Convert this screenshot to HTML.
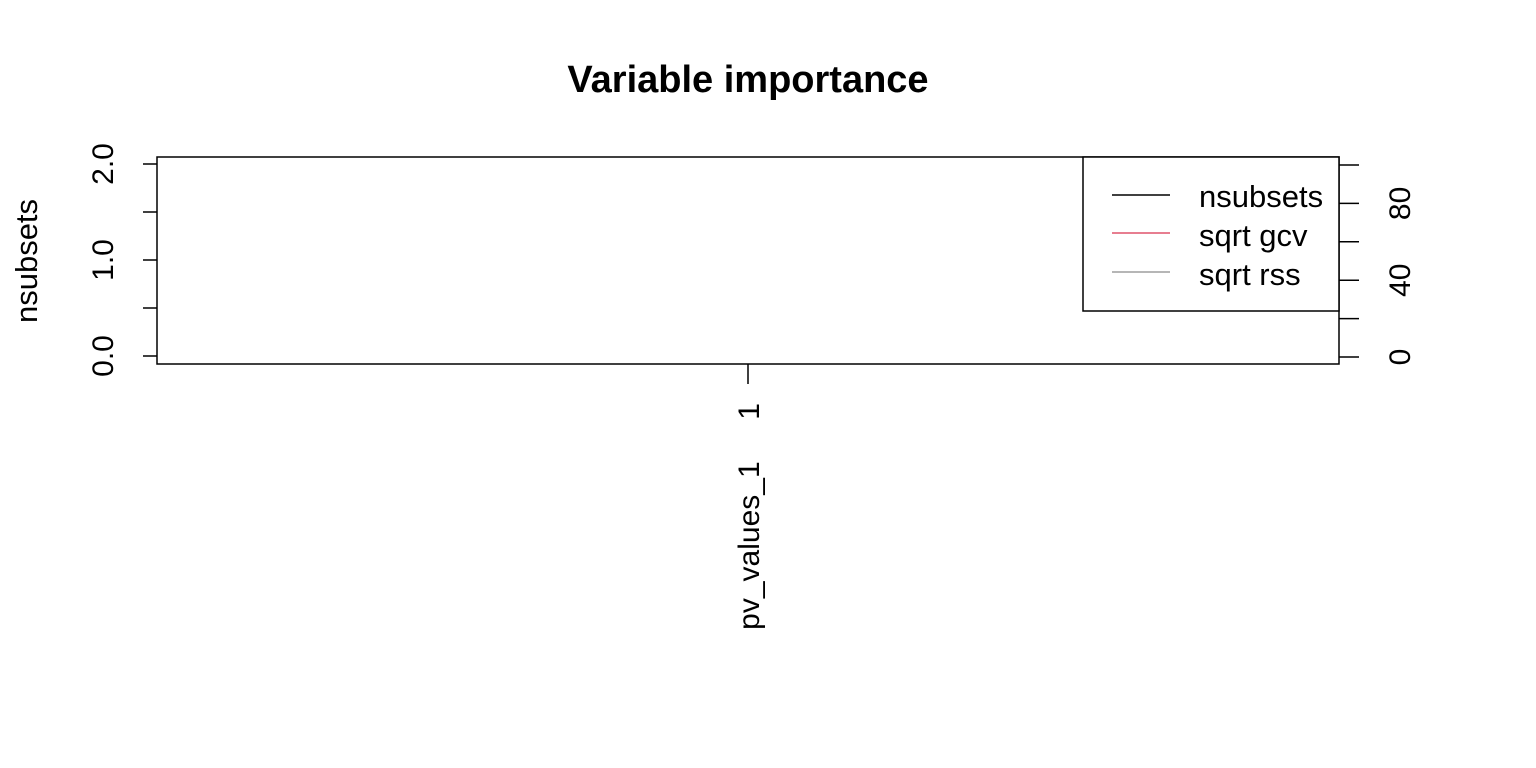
<!DOCTYPE html>
<html><head><meta charset="utf-8"><style>body{margin:0;background:#fff}svg{display:block}text{font-family:"Liberation Sans",Arial,sans-serif}</style></head>
<body>
<svg width="1536" height="768" xmlns="http://www.w3.org/2000/svg">
<text x="748" y="92" font-size="38" font-weight="bold" text-anchor="middle">Variable importance</text>
<rect x="157" y="157" width="1182" height="207" fill="none" stroke="#000" stroke-width="1.5"/>
<g id="leftAxis"></g>
<g id="rightAxis"></g>
<g id="xAxis"></g>
<text transform="translate(37,261) rotate(-90)" font-size="31" text-anchor="middle">nsubsets</text>
<g>
<rect x="1083" y="157" width="256" height="154" fill="#fff" stroke="#000" stroke-width="1.5"/>
<line x1="1112" y1="195" x2="1170" y2="195" stroke="#000" stroke-width="1.5"/>
<text x="1199" y="207" font-size="31">nsubsets</text>
<line x1="1112" y1="233" x2="1170" y2="233" stroke="#DF536B" stroke-width="1.5"/>
<text x="1199" y="246" font-size="31">sqrt gcv</text>
<line x1="1112" y1="272" x2="1170" y2="272" stroke="#9E9E9E" stroke-width="1.5"/>
<text x="1199" y="285" font-size="31">sqrt rss</text>
</g>
</svg>
<script>
const leftTicks=[0,0.5,1,1.5,2];
const leftLabels=["0.0","","1.0","","2.0"];
const rightTicks=[0,20,40,60,80,100];
const rightLabels=["0","","40","","80",""];
const categories=["pv_values_1     1"];
const NS="http://www.w3.org/2000/svg";
function yL(v){return 356-v*96;}
function yR(v){return 357-v*1.92;}
function xC(i){return 157+1182*(i+0.5)/categories.length;}
function mk(tag,attrs,parent){const e=document.createElementNS(NS,tag);for(const k in attrs)e.setAttribute(k,attrs[k]);parent.appendChild(e);return e;}
const la=document.getElementById('leftAxis');
leftTicks.forEach((v,i)=>{
 const t=mk('line',{x1:143,y1:yL(v),x2:157,y2:yL(v),stroke:'#000','stroke-width':1.5},la);
 
 
 if(leftLabels[i]){const tx=mk('text',{transform:`translate(113,${yL(v)}) rotate(-90)`,'font-size':30,'text-anchor':'middle'},la);tx.textContent=leftLabels[i];
 
 }
});
const ra=document.getElementById('rightAxis');
rightTicks.forEach((v,i)=>{
 const t=mk('line',{x1:1339,y1:yR(v),x2:1359,y2:yR(v),stroke:'#000','stroke-width':1.5},ra);
 
 
 if(rightLabels[i]){const tx=mk('text',{transform:`translate(1410,${yR(v)}) rotate(-90)`,'font-size':30,'text-anchor':'middle'},ra);tx.textContent=rightLabels[i];
 
 }
});
const xa=document.getElementById('xAxis');
categories.forEach((c,i)=>{
 const x=xC(i);
 const t=mk('line',{x1:x,y1:364,x2:x,y2:384,stroke:'#000','stroke-width':1.5},xa);
 
 
 const tx=mk('text',{transform:`translate(${x+11},403) rotate(-90)`,'font-size':30,'text-anchor':'end'},xa);
 tx.setAttribute('style','white-space:pre');
 tx.textContent=c;
 
 
});
</script>
</body></html>
